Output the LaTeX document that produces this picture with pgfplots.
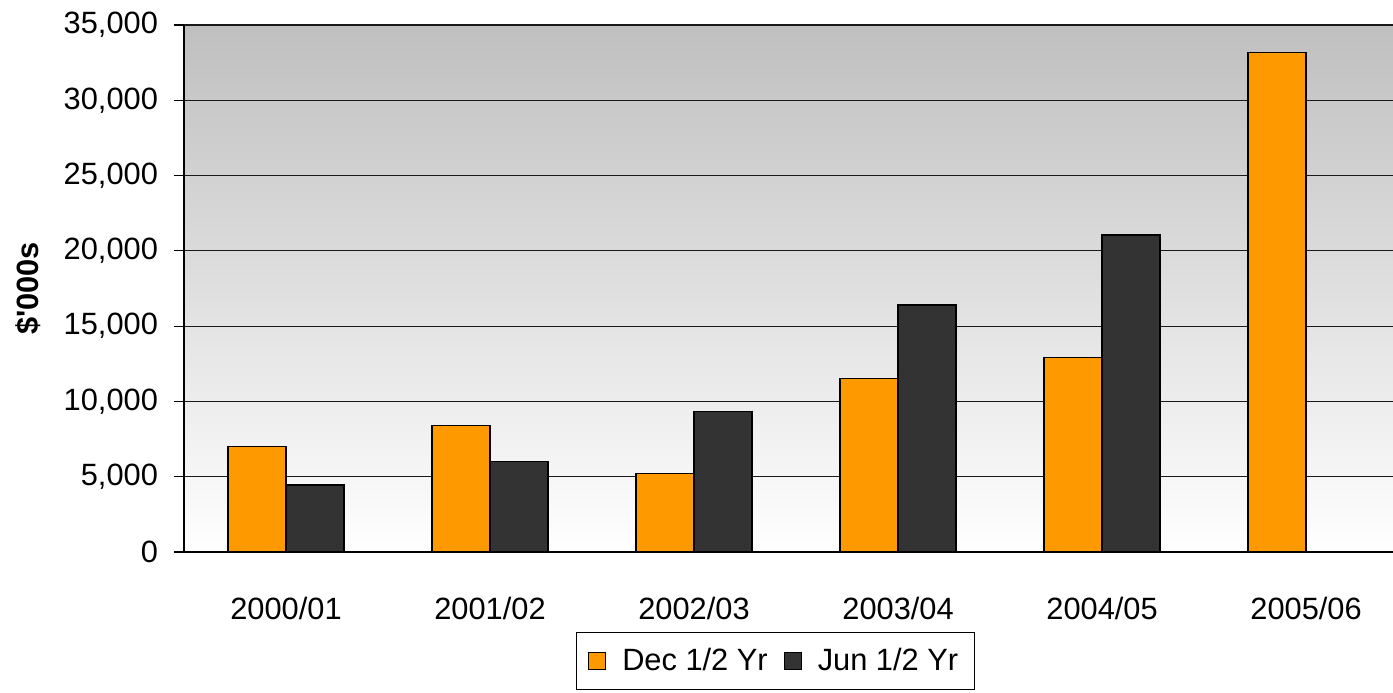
\documentclass[border=0pt]{standalone}
\usepackage{pgfplots}
\pgfplotsset{compat=1.18}
\usepackage{fontspec}
\setmainfont{Liberation Sans}
\definecolor{barorange}{HTML}{FF9900}
\definecolor{bardark}{HTML}{333333}
\begin{document}
\begin{tikzpicture}
\begin{axis}[
  scale only axis,
  width=604.5pt, height=263.5pt,
  xmin=-0.5, xmax=5.426,
  ymin=0, ymax=35000,
  axis x line=bottom, axis y line=left,
  axis line style={-, black, line width=0.6pt},
  axis background/.style={top color=black!25, bottom color=white},
  ytick={0,5000,...,35000},
  scaled y ticks=false,
  ymajorgrids,
  grid style={black!90, line width=0.6pt},
  /pgf/number format/fixed,
  /pgf/number format/1000 sep={,},
  /pgf/number format/assume math mode=true,
  yticklabel style={font=\fontsize{15.4}{18}\selectfont, xshift=-4.5pt},
  tick align=outside,
  major tick length=5pt,
  xtick={0,1,2,3,4,5},
  xticklabels={2000/01,2001/02,2002/03,2003/04,2004/05,2005/06},
  xticklabel style={font=\fontsize{15.4}{18}\selectfont, yshift=-14pt},
  x tick style={draw=none},
  minor xtick={-0.5,0.5,1.5,2.5,3.5,4.5},
  minor x tick style={black, line width=0.6pt},
  minor tick length=5pt,
  y tick style={black, line width=0.6pt},
  ylabel={\bfseries \$\textquotesingle000s},
  ylabel style={font=\fontsize{15.4}{18}\selectfont, at={(axis description cs:0,0.5)}, anchor=south, yshift=68pt},
  legend style={at={(0.489,-0.152)}, anchor=north, legend columns=2, draw=black, fill=white,
    font=\fontsize{15.4}{18}\selectfont, inner xsep=6pt, inner ysep=6pt, column sep=6pt},
  legend image code/.code={\draw[#1, line width=0.5pt] (0pt,-4.25pt) rectangle (8.5pt,4.25pt);},
  clip=false,
]
\coordinate (O) at (rel axis cs:0,0);
\addplot[ybar, bar width=29pt, bar shift=-14.5pt, fill=barorange, draw=black, line width=0.6pt]
  coordinates {(0,7000) (1,8400) (2,5200) (3,11500) (4,12900) (5,33200)};
\addlegendentry{Dec 1/2 Yr}
\addplot[ybar, bar width=29pt, bar shift=14.5pt, fill=bardark, draw=black, line width=0.6pt]
  coordinates {(0,4450) (1,6000) (2,9350) (3,16400) (4,21050)};
\addlegendentry{Jun 1/2 Yr}
\end{axis}
\pgfresetboundingbox
\path[use as bounding box] (O) ++(-92pt,-70pt) rectangle ++(696.5pt,346pt);
\end{tikzpicture}
\end{document}
